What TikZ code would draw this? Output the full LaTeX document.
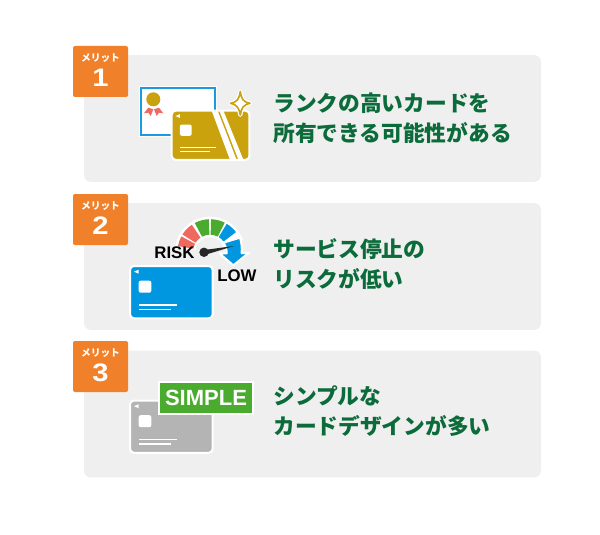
\documentclass[tikz,border=0pt]{standalone}
\usepackage{fontspec}
\setmainfont{Liberation Sans}
\newfontfamily\jpfont{Noto Sans CJK JP}
\newfontfamily\numfont[FakeStretch=1.15]{Liberation Sans}
\usetikzlibrary{positioning}
\definecolor{panelgray}{HTML}{EFEFEF}
\definecolor{badgeorange}{HTML}{F08029}
\definecolor{textgreen}{HTML}{0B6B3A}
\definecolor{cardgold}{HTML}{C9A20D}
\definecolor{cardblue}{HTML}{0097E0}
\definecolor{cardgray}{HTML}{B4B4B4}
\definecolor{simplegreen}{HTML}{4AAB2E}
\definecolor{certblue}{HTML}{1A9BE0}
\definecolor{gaugered}{HTML}{EE6A5F}
\tikzset{
  panel/.style = { fill = panelgray, rounded corners = 5pt, minimum width = 342.75pt, minimum height = 95pt, inner sep = 0pt },
  badge/.style = { fill = badgeorange, rounded corners = 1.5pt, minimum width = 41.25pt, minimum height = 38.25pt, inner sep = 0pt },
  badgelabel/.style = { text = white, inner sep = 0pt, font = \jpfont\bfseries\fontsize{7.3}{8}\selectfont },
  badgenum/.style = { text = white, inner sep = 0pt, font = \numfont\bfseries\fontsize{19}{20}\selectfont },
  headline/.style = { text = textgreen, anchor = west, align = left, inner sep = 0pt, font = \jpfont\bfseries\fontsize{16.3}{22.5}\selectfont },
  gaugetext/.style = { text = black, inner sep = 0pt, font = \bfseries\fontsize{12.6}{14}\selectfont }
}
% plastic card, top left corner at (x,y)
\newcommand{\paycard}[4][1]{
  \begin{scope}[shift = {(#2)}, scale = #1]
    \draw [white, line width = 1.5pt, fill = #3, rounded corners = 3pt] (0,0) rectangle (82.7,52.3);
    \fill [white, rounded corners = 1.5pt] (8.7,14.7) rectangle (21.3,26.7);
    \fill [white] (4,5.7) -- (8.7,3.7) -- (8.7,7.7) -- cycle;
    \fill [white] (8.7,38.2) rectangle (46.7,39.8);
    \fill [white] (8.7,42.5) rectangle (40.7,44.1);
    #4
  \end{scope}
}
\newcommand{\gaugeseg}[3]{
  \fill [#3] (#1:17) arc (#1:#2:17) -- (#2:32.5) arc (#2:#1:32.5) -- cycle;
}
\begin{document}
\begin{tikzpicture}[x = .75pt, y = -.75pt]
  \useasboundingbox (0,0) rectangle (600,535);

  \node [panel] (panelA) at (312.5,118.5) {};
  \node [panel] (panelB) at (312.5,266.5) {};
  \node [panel] (panelC) at (312.5,414) {};

  \node [badge] (badgeA) at (100.5,71.5) {};
  \node [badge] (badgeB) at (100.5,219.5) {};
  \node [badge] (badgeC) at (100.5,366.5) {};
  \node [badgelabel] (meritA) at (100.5,58) {メリット};
  \node [badgelabel] (meritB) at (100.5,206) {メリット};
  \node [badgelabel] (meritC) at (100.5,353) {メリット};
  \node [badgenum] (numA) at (100.5,78) {1};
  \node [badgenum] (numB) at (100.5,226) {2};
  \node [badgenum] (numC) at (100.5,373) {3};

  \node [headline] (textA) at (273,118) {ランクの高いカードを\\所有できる可能性がある};
  \node [headline] (textB) at (273,264) {サービス停止の\\リスクが低い};
  \node [headline] (textC) at (273,411) {シンプルな\\カードデザインが多い};

  % merit 1
  \draw [white, line width = 3pt] (140.7,87.7) rectangle (215,135);
  \draw [certblue, line width = 1.5pt, fill = white] (140.7,87.7) rectangle (215,135);
  \fill [gaugered] (148.3,107.7) -- (153.3,109.3) -- (150.7,116) -- (148.3,112.7) -- (144,113.3) -- cycle;
  \fill [gaugered] (159,107.7) -- (154,109.3) -- (156.7,116) -- (159,112.7) -- (163.3,113.3) -- cycle;
  \fill [cardgold] (153.3,99.3) circle [radius = 7];
  \paycard[.94]{171.7,110.7}{cardgold}{
    \fill [white] (42.5,0) -- (48.9,0) -- (69,52.3) -- (62,52.3) -- cycle;
    \fill [white] (50.7,0) -- (55,0) -- (76.3,52.3) -- (71,52.3) -- cycle;
  }
  \draw [white, line width = 3pt, fill = white, line join = round] (240.3,91.5) .. controls (241.5,99) and (243,102) .. (250,103.3) .. controls (243,105) and (241.5,108) .. (240.3,115) .. controls (239,108) and (237.5,105) .. (230.5,103.3) .. controls (237.5,102) and (239,99) .. (240.3,91.5) -- cycle;
  \draw [cardgold, line width = 1.2pt, fill = white, line join = round] (240.3,91.5) .. controls (241.5,99) and (243,102) .. (250,103.3) .. controls (243,105) and (241.5,108) .. (240.3,115) .. controls (239,108) and (237.5,105) .. (230.5,103.3) .. controls (237.5,102) and (239,99) .. (240.3,91.5) -- cycle;

  % merit 2
  \paycard{130,266}{cardblue}{}
  \begin{scope}[shift = {(210,251.7)}, yscale = -1]
    \fill [white] (175:14.5) arc (175:20:14.5) -- (20:35) arc (20:175:35) -- cycle;
    \gaugeseg{152}{170}{gaugered}
    \gaugeseg{124}{148}{gaugered}
    \gaugeseg{92}{118}{simplegreen}
    \gaugeseg{63}{88}{simplegreen}
    \gaugeseg{37}{59}{cardblue}
  \end{scope}
  \draw [white, line width = 1.5pt, fill = cardblue, line join = round] (240,237.7) -- (223.3,242.7) .. controls (226,246) and (226.7,250) .. (226.7,253.3) -- (219.3,253.3) -- (233.3,265.3) -- (249,252.7) -- (241.7,253.3) .. controls (242,247) and (241.5,242) .. (240,237.7) -- cycle;
  \fill [black!85] (204,250) -- (234,246) -- (204.5,255) -- cycle;
  \fill [black!85] (204,252.3) circle [radius = 4.7];
  \node [gaugetext] (risk) at (174.5,253) {RISK};
  \node [gaugetext] (low) at (237,276) {LOW};

  % merit 3
  \paycard{130,400.5}{cardgray}{}
  \node [draw = white, line width = 1.5pt, fill = simplegreen, text = white, minimum width = 70.5pt, minimum height = 24pt, inner sep = 0pt, font = \bfseries\fontsize{16.5}{18}\selectfont] (simple) at (206,397.7) {SIMPLE};
\end{tikzpicture}
\end{document}
